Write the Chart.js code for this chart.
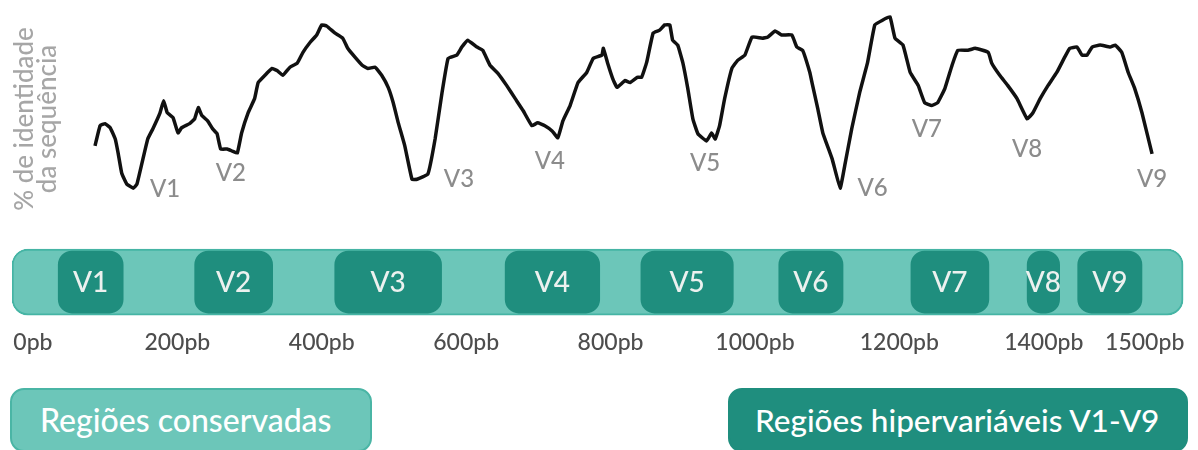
<!DOCTYPE html>
<html lang="pt">
  <head>
    <meta charset="UTF-8" />
    <title>Identidade da sequência 16S</title>
    <script src="https://cdn.jsdelivr.net/npm/chart.js"></script>
    <style>
      body { margin: 0; background: #fff; font-family: Lato, sans-serif; }
      #quadro { position: relative; width: 1198px; height: 450px; overflow: hidden; }
      #grafico { position: absolute; left: 0; top: 0; width: 1198px; height: 360px; }
      .legenda {
        position: absolute; top: 388px; height: 64px; box-sizing: border-box;
        border-radius: 14px; color: #fff; font-size: 32px; font-weight: 500; line-height: 60px;
      }
      #conservadas { left: 10px; width: 362px; padding-left: 28px; background: #6cc6b9; border: 2px solid #4ab5a5; }
      #hipervariaveis { left: 728px; width: 460px; padding-left: 25px; font-size: 31.5px; background: #1f8e7e; border: 2px solid #1f8e7e; }
    </style>
  </head>
  <body>
    <div id="quadro">
      <div id="grafico"><canvas id="identidadeChart"></canvas></div>
      <div class="legenda" id="conservadas">Regiões conservadas</div>
      <div class="legenda" id="hipervariaveis">Regiões hipervariáveis V1-V9</div>
    </div>

    <script>
      // posição ao longo do gene (pb) e % de identidade
      const posicaoPb = [86, 93, 100, 107, 114, 118, 123, 130, 139, 144, 151, 159, 166, 176, 181, 186, 194, 201, 206, 217,
        224, 229, 234, 242, 249, 255, 260, 269, 276, 283, 289, 298, 307, 312, 324, 331, 338, 346, 356, 366,
        374, 384, 393, 400, 407, 418, 429, 436, 446, 456, 464, 474, 483, 492, 499, 506, 515, 525, 532, 547,
        557, 566, 575, 587, 594, 602, 615, 623, 633, 644, 656, 668, 679, 691, 699, 709, 719, 727, 734, 744,
        755, 767, 776, 788, 790, 796, 803, 809, 820, 827, 837, 843, 850, 859, 868, 875, 882, 886, 893, 900,
        907, 914, 921, 933, 940, 945, 951, 958, 968, 976, 986, 996, 1010, 1018, 1028, 1037, 1051, 1058, 1066, 1076,
        1079, 1087, 1094, 1107, 1118, 1125, 1134, 1145, 1156, 1166, 1177, 1187, 1194, 1205, 1215, 1226, 1235, 1245, 1253, 1263,
        1273, 1281, 1295, 1305, 1323, 1328, 1339, 1350, 1363, 1377, 1385, 1395, 1406, 1418, 1429, 1436, 1446, 1453, 1460, 1467,
        1478, 1492, 1499, 1508, 1517, 1526, 1536, 1550];
      const identidade = [66.3, 71.3, 71.8, 70.8, 68.0, 64.5, 59.5, 56.8, 55.8, 56.8, 62.0, 68.0, 70.5, 74.5, 77.5, 74.5, 73.3, 69.5, 70.8, 71.8,
        73.0, 75.8, 73.8, 72.5, 70.5, 69.3, 65.5, 65.5, 65.0, 64.5, 69.5, 74.5, 78.0, 82.0, 84.3, 85.5, 85.0, 83.8, 85.8, 86.8,
        89.5, 92.0, 93.8, 96.3, 96.0, 94.3, 93.0, 90.5, 88.3, 86.3, 85.5, 85.8, 83.8, 80.8, 77.0, 72.0, 66.3, 58.0, 58.0, 59.3,
        68.0, 78.8, 88.0, 88.8, 90.8, 92.5, 90.8, 90.0, 86.3, 84.3, 81.3, 78.0, 75.0, 71.3, 72.0, 71.3, 70.0, 68.3, 72.5, 76.3,
        82.0, 84.5, 88.0, 88.8, 90.5, 86.8, 83.0, 80.8, 82.5, 82.0, 83.3, 83.3, 87.0, 94.3, 95.0, 96.3, 96.3, 92.5, 91.3, 87.0,
        80.5, 73.0, 69.3, 67.5, 69.5, 68.0, 71.3, 78.0, 85.5, 87.5, 88.8, 93.3, 93.0, 93.3, 94.8, 93.8, 93.8, 90.8, 90.0, 84.5,
        82.0, 75.5, 69.5, 63.0, 55.8, 62.0, 70.5, 79.5, 87.0, 96.3, 97.5, 98.3, 93.0, 91.3, 84.5, 81.3, 77.0, 76.3, 77.0, 80.5,
        86.3, 90.0, 90.0, 90.5, 89.5, 86.8, 83.8, 81.3, 78.0, 73.0, 74.5, 78.0, 81.3, 84.5, 88.3, 90.5, 90.8, 88.8, 88.8, 90.8,
        91.3, 90.8, 91.3, 89.5, 84.5, 80.5, 74.5, 64.3];

      // regiões hipervariáveis (pb)
      const regioes = ["V1", "V2", "V3", "V4", "V5", "V6", "V7", "V8", "V9"];
      const regiaoInicio = [35, 224, 418, 654, 842, 1033, 1216, 1377, 1447];
      const regiaoFim = [125, 332, 566, 785, 970, 1122, 1324, 1422, 1536];
      const geneInicio = -29;
      const geneFim = 1593;

      // rótulos cinza junto aos vales da curva
      const rotuloPb = [183, 274, 590, 716, 931, 1163, 1238, 1377, 1550];
      const rotuloIdentidade = [55.5, 59.5, 58.0, 62.5, 62.0, 55.8, 70.5, 65.5, 58.0];

      const marcasPb = [0, 200, 400, 600, 800, 1000, 1200, 1400, 1500];

      const textosPlugin = {
        id: "textos",
        afterDatasetsDraw(chart) {
          const { ctx, scales } = chart;
          ctx.save();
          ctx.textAlign = "center";
          ctx.textBaseline = "middle";

          // V1..V9 perto da curva
          ctx.font = "500 24px Lato";
          ctx.fillStyle = "#8c8c8c";
          regioes.forEach((r, i) => {
            ctx.fillText(r, scales.x.getPixelForValue(rotuloPb[i]), scales.y.getPixelForValue(rotuloIdentidade[i]));
          });

          // V1..V9 dentro das caixas
          ctx.font = "500 28px Lato";
          ctx.fillStyle = "#ecf1ef";
          chart.getDatasetMeta(1).data.forEach((bar, i) => {
            ctx.fillText(regioes[i], (bar.x + bar.base) / 2, bar.y + 1);
          });

          // título do eixo y
          ctx.font = "500 26px Lato";
          ctx.fillStyle = "#a6a6a6";
          ctx.translate(25, 119);
          ctx.rotate(-Math.PI / 2);
          ctx.fillText("% de identidade", 0, 0);
          ctx.fillText("da sequência", 0, 23);
          ctx.restore();
        },
      };

      const ctx = document.getElementById("identidadeChart").getContext("2d");
      const identidadeChart = new Chart(ctx, {
        type: "line",
        data: {
          datasets: [
            {
              type: "line",
              data: posicaoPb.map((p, i) => ({ x: p, y: identidade[i] })),
              xAxisID: "x",
              yAxisID: "y",
              borderColor: "#111",
              borderWidth: 3.5,
              pointRadius: 0,
              tension: 0.1,
              order: 0,
            },
            {
              type: "bar",
              indexAxis: "y",
              data: regiaoInicio.map((s, i) => ({ x: [s, regiaoFim[i]], y: "16S" })),
              xAxisID: "x",
              yAxisID: "yb",
              backgroundColor: "#1f8e7e",
              borderRadius: 14,
              borderSkipped: false,
              barThickness: 62,
              grouped: false,
              order: 1,
            },
            {
              type: "bar",
              indexAxis: "y",
              data: [{ x: [geneInicio, geneFim], y: "16S" }],
              xAxisID: "x",
              yAxisID: "yb",
              backgroundColor: "#6cc6b9",
              borderColor: "#45b4a4",
              borderWidth: 2,
              borderRadius: 16,
              borderSkipped: false,
              barThickness: 66,
              grouped: false,
              order: 2,
            },
          ],
        },
        options: {
          responsive: true,
          maintainAspectRatio: false,
          animation: false,
          layout: { padding: { left: 12, right: 12, top: 10, bottom: 4 } },
          plugins: { legend: { display: false }, tooltip: { enabled: false } },
          scales: {
            x: {
              type: "linear",
              position: "bottom",
              min: -29,
              max: 1597,
              grid: { display: false, drawTicks: false },
              border: { display: false },
              afterBuildTicks: (s) => {
                s.ticks = marcasPb.map((v) => ({ value: v }));
              },
              ticks: {
                autoSkip: false,
                maxRotation: 0,
                padding: 0,
                color: "#4d4d4d",
                font: { family: "Lato", size: 23, weight: 500 },
                // o último rótulo fica encostado ao fim do gene, como na figura
                callback: (v) => (v === 1500 ? "\u2002\u2002\u2002\u2002\u2002" : "") + v + "pb",
              },
            },
            y: {
              type: "linear",
              position: "right",
              min: 44,
              max: 100,
              stack: "v",
              stackWeight: 224,
              display: false,
            },
            yb: {
              type: "category",
              labels: ["16S"],
              offset: true,
              position: "right",
              stack: "v",
              stackWeight: 92,
              display: false,
            },
          },
        },
        plugins: [textosPlugin],
      });
    </script>
  </body>
</html>
